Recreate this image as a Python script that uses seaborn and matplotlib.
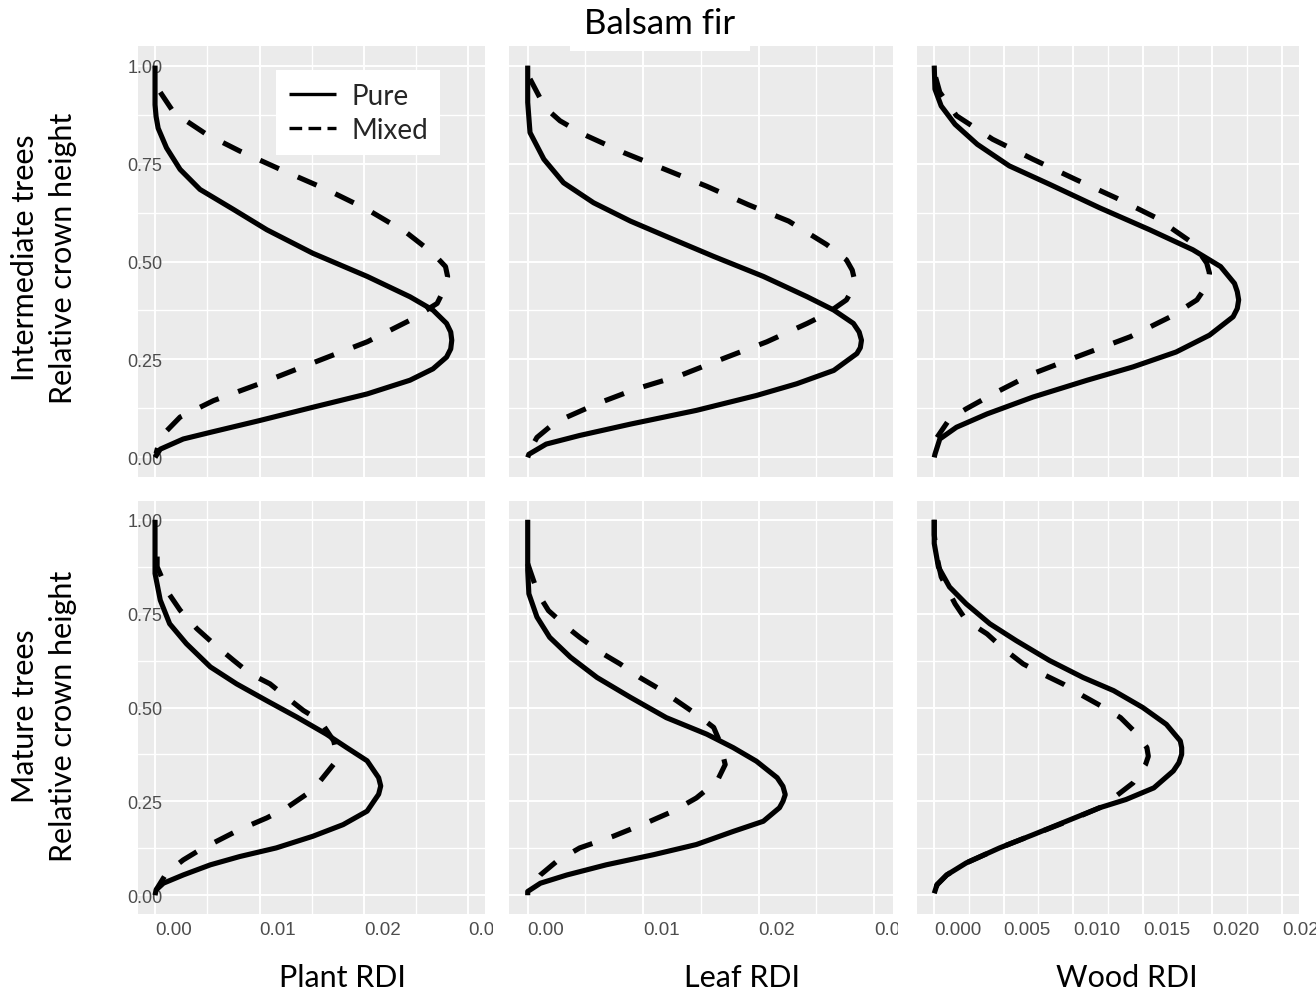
import matplotlib
matplotlib.use("Agg")
import matplotlib.pyplot as plt
import seaborn as sns
from matplotlib import font_manager
from matplotlib.font_manager import FontProperties
from matplotlib.lines import Line2D
from matplotlib.patches import Rectangle
from matplotlib.ticker import FixedLocator
from matplotlib.transforms import Bbox, TransformedBbox

# ---------------------------------------------------------------------------
# Relative density index (RDI) profiles along relative crown height
# ---------------------------------------------------------------------------
column_titles = ["Plant RDI", "Leaf RDI", "Wood RDI"]
row_titles = ["Intermediate trees\nRelative crown height",
              "Mature trees\nRelative crown height"]
stand_types = ["Pure", "Mixed"]

height_ticks = [0.0, 0.25, 0.50, 0.75, 1.00]
height_tick_labels = ["0.00", "0.25", "0.50", "0.75", "1.00"]
rdi_ticks_plant_leaf = [0.0, 0.01, 0.02, 0.03]
rdi_tick_labels_plant_leaf = ["0.00", "0.01", "0.02", "0.03"]
rdi_ticks_wood = [0.0, 0.005, 0.010, 0.015, 0.020, 0.025]
rdi_tick_labels_wood = ["0.000", "0.005", "0.010", "0.015", "0.020", "0.025"]

# Intermediate trees - plant RDI
int_plant_pure_h = [1.00, 0.90, 0.87, 0.84, 0.79, 0.735, 0.684, 0.633, 0.581, 0.521, 0.462, 0.410, 0.376,
                    0.342, 0.320, 0.299, 0.277, 0.256, 0.226, 0.197, 0.162, 0.128, 0.094, 0.064, 0.047,
                    0.021, 0.0]
int_plant_pure_rdi = [0.0, 0.0, 0.0001, 0.0003, 0.0011, 0.0024, 0.0043, 0.0075, 0.0107, 0.0151, 0.0203, 0.0244,
                      0.0266, 0.0279, 0.0283, 0.0284, 0.0283, 0.0279, 0.0266, 0.0244, 0.0203, 0.0151, 0.0100,
                      0.0053, 0.0027, 0.0005, 0.0]
int_plant_mixed_h = [0.932, 0.880, 0.825, 0.782, 0.735, 0.684, 0.633, 0.573, 0.521, 0.487, 0.462, 0.436, 0.393,
                     0.350, 0.295, 0.235, 0.188, 0.145, 0.103, 0.051, 0.010]
int_plant_mixed_rdi = [0.0005, 0.0018, 0.0049, 0.0081, 0.0120, 0.0164, 0.0203, 0.0241, 0.0266, 0.0278, 0.0280,
                       0.0278, 0.0270, 0.0244, 0.0203, 0.0145, 0.0100, 0.0056, 0.0024, 0.0005, 0.0001]

# Intermediate trees - leaf RDI
int_leaf_pure_h = [1.00, 0.906, 0.829, 0.761, 0.701, 0.650, 0.603, 0.564, 0.513, 0.462, 0.410, 0.376,
                   0.342, 0.320, 0.299, 0.280, 0.265, 0.222, 0.188, 0.158, 0.120, 0.085, 0.056, 0.034,
                   0.008, 0.0]
int_leaf_pure_rdi = [0.0, 0.0, 0.0002, 0.0014, 0.0031, 0.0057, 0.0089, 0.0120, 0.0161, 0.0204, 0.0242, 0.0265,
                     0.0282, 0.0287, 0.0289, 0.0288, 0.0285, 0.0265, 0.0233, 0.0198, 0.0146, 0.0089, 0.0045,
                     0.0016, 0.0001, 0.0]
int_leaf_mixed_h = [0.966, 0.893, 0.859, 0.825, 0.778, 0.735, 0.692, 0.645, 0.603, 0.543, 0.504, 0.478, 0.453,
                    0.428, 0.402, 0.367, 0.342, 0.295, 0.252, 0.209, 0.175, 0.137, 0.090, 0.051, 0.008]
int_leaf_mixed_rdi = [0.0002, 0.0015, 0.0028, 0.0048, 0.0083, 0.0119, 0.0155, 0.0191, 0.0226, 0.0259, 0.0276,
                      0.0281, 0.0283, 0.0281, 0.0276, 0.0259, 0.0242, 0.0207, 0.0169, 0.0132, 0.0094, 0.0060,
                      0.0024, 0.0008, 0.0]

# Intermediate trees - wood RDI
int_wood_pure_h = [1.00, 0.940, 0.897, 0.850, 0.799, 0.744, 0.697, 0.637, 0.581, 0.530, 0.487, 0.444, 0.423,
                   0.402, 0.380, 0.359, 0.312, 0.269, 0.231, 0.197, 0.154, 0.111, 0.077, 0.047, 0.008, 0.0]
int_wood_pure_rdi = [0.0, 0.00005, 0.0005, 0.0015, 0.0031, 0.0054, 0.0083, 0.0119, 0.0155, 0.0186, 0.0206,
                     0.0216, 0.0218, 0.0219, 0.0218, 0.0215, 0.0198, 0.0174, 0.0143, 0.0110, 0.0071, 0.0038,
                     0.0016, 0.0004, 0.00005, 0.0]
int_wood_mixed_h = [0.97, 0.932, 0.872, 0.812, 0.761, 0.709, 0.662, 0.611, 0.547, 0.496, 0.470, 0.444, 0.402,
                    0.359, 0.308, 0.256, 0.214, 0.167, 0.124, 0.098, 0.051]
int_wood_mixed_rdi = [0.0001, 0.0004, 0.0016, 0.0042, 0.0071, 0.0102, 0.0131, 0.0160, 0.0186, 0.0196, 0.0198,
                      0.0197, 0.0189, 0.0170, 0.0141, 0.0102, 0.0071, 0.0045, 0.0023, 0.0011, 0.0002]

# Mature trees - plant RDI
mat_plant_pure_h = [1.00, 0.857, 0.786, 0.723, 0.670, 0.608, 0.563, 0.518, 0.474, 0.429, 0.394, 0.358,
                    0.313, 0.291, 0.269, 0.224, 0.188, 0.157, 0.126, 0.103, 0.081, 0.054, 0.032, 0.014, 0.0]
mat_plant_pure_rdi = [0.0, 0.0, 0.0005, 0.0014, 0.0030, 0.0053, 0.0078, 0.0107, 0.0136, 0.0164, 0.0183, 0.0203,
                      0.0214, 0.0216, 0.0214, 0.0203, 0.0180, 0.0151, 0.0116, 0.0081, 0.0053, 0.0027, 0.0008,
                      0.0001, 0.0]
mat_plant_mixed_h = [0.902, 0.875, 0.804, 0.759, 0.710, 0.670, 0.626, 0.590, 0.563, 0.527, 0.492, 0.465,
                     0.411, 0.376, 0.349, 0.304, 0.269, 0.233, 0.206, 0.175, 0.148, 0.121, 0.094, 0.059, 0.014]
mat_plant_mixed_rdi = [0.0002, 0.0002, 0.0013, 0.0024, 0.0040, 0.0056, 0.0075, 0.0091, 0.0110, 0.0126, 0.0142,
                       0.0158, 0.0171, 0.0174, 0.0171, 0.0158, 0.0145, 0.0126, 0.0107, 0.0081, 0.0062, 0.0043,
                       0.0027, 0.0011, 0.0001]

# Mature trees - leaf RDI
mat_leaf_pure_h = [1.00, 0.865, 0.803, 0.741, 0.687, 0.634, 0.580, 0.527, 0.473, 0.429, 0.393, 0.357,
                   0.313, 0.290, 0.268, 0.250, 0.233, 0.197, 0.170, 0.135, 0.108, 0.081, 0.054, 0.032, 0.010, 0.0]
mat_leaf_pure_rdi = [0.0, 0.0, 0.0001, 0.0008, 0.0019, 0.0037, 0.0060, 0.0089, 0.0120, 0.0155, 0.0178, 0.0198,
                     0.0216, 0.0221, 0.0223, 0.0221, 0.0218, 0.0204, 0.0178, 0.0146, 0.0109, 0.0068, 0.0034,
                     0.0011, 0.0, 0.0]
mat_leaf_mixed_h = [0.883, 0.803, 0.758, 0.714, 0.687, 0.647, 0.616, 0.580, 0.553, 0.518, 0.482, 0.447,
                    0.411, 0.348, 0.304, 0.259, 0.224, 0.193, 0.157, 0.126, 0.090, 0.054, 0.019]
mat_leaf_mixed_rdi = [0.0, 0.0009, 0.0018, 0.0034, 0.0045, 0.0063, 0.0080, 0.0097, 0.0112, 0.0129, 0.0146, 0.0161,
                      0.0166, 0.0171, 0.0164, 0.0146, 0.0126, 0.0103, 0.0074, 0.0045, 0.0025, 0.0011, 0.0002]

# Mature trees - wood RDI
mat_wood_pure_h = [1.00, 0.937, 0.874, 0.821, 0.776, 0.723, 0.678, 0.625, 0.580, 0.545, 0.500, 0.455,
                   0.411, 0.393, 0.375, 0.353, 0.331, 0.286, 0.255, 0.233, 0.197, 0.161, 0.126, 0.086, 0.054,
                   0.028, 0.005]
mat_wood_pure_rdi = [0.0, 0.0, 0.0003, 0.0011, 0.0023, 0.0040, 0.0059, 0.0083, 0.0107, 0.0129, 0.0150, 0.0167,
                     0.0177, 0.0178, 0.0178, 0.0176, 0.0172, 0.0158, 0.0138, 0.0119, 0.0095, 0.0071, 0.0047,
                     0.0023, 0.0009, 0.0002, 0.0]
mat_wood_mixed_h = [1.00, 0.96, 0.90, 0.848, 0.776, 0.732, 0.696, 0.656, 0.616, 0.589, 0.562, 0.531, 0.500,
                    0.473, 0.429, 0.393, 0.370, 0.348, 0.299, 0.259, 0.233, 0.197, 0.161, 0.126, 0.086, 0.054,
                    0.028, 0.005]
mat_wood_mixed_rdi = [0.0, 0.0, 0.0002, 0.0005, 0.0015, 0.0023, 0.0038, 0.0050, 0.0064, 0.0078, 0.0093, 0.0107,
                      0.0122, 0.0134, 0.0146, 0.0153, 0.0154, 0.0152, 0.0143, 0.0129, 0.0119, 0.0096, 0.0071,
                      0.0047, 0.0023, 0.0009, 0.0002, 0.0]

panels = [
    [(int_plant_pure_h, int_plant_pure_rdi, int_plant_mixed_h, int_plant_mixed_rdi),
     (int_leaf_pure_h, int_leaf_pure_rdi, int_leaf_mixed_h, int_leaf_mixed_rdi),
     (int_wood_pure_h, int_wood_pure_rdi, int_wood_mixed_h, int_wood_mixed_rdi)],
    [(mat_plant_pure_h, mat_plant_pure_rdi, mat_plant_mixed_h, mat_plant_mixed_rdi),
     (mat_leaf_pure_h, mat_leaf_pure_rdi, mat_leaf_mixed_h, mat_leaf_mixed_rdi),
     (mat_wood_pure_h, mat_wood_pure_rdi, mat_wood_mixed_h, mat_wood_mixed_rdi)],
]


def first_font(names):
    for name in names:
        try:
            font_manager.findfont(FontProperties(family=name), fallback_to_default=False)
            return name
        except Exception:
            continue
    return "DejaVu Sans"


sns.set_theme(style="darkgrid")
LABEL_FONT = first_font(["Lato", "Open Sans", "Noto Sans"])
TICK_FONT = first_font(["Liberation Sans Narrow", "Liberation Sans", "DejaVu Sans"])
plt.rcParams["font.family"] = [LABEL_FONT, "DejaVu Sans"]
plt.rcParams["axes.facecolor"] = "#EBEBEB"
plt.rcParams["axes.axisbelow"] = True

W, H = 1316, 995
fig = plt.figure(figsize=(W / 100, H / 100), dpi=100, facecolor="white")

# panel boxes in pixels: (left, right) per column, (top, bottom) per row
col_px = [(138, 485), (509, 893), (917, 1299)]
row_px = [(47, 478), (502, 915)]
col_xlim = [(-0.00163, 0.03158), (-0.00162, 0.03163), (-0.00124, 0.02624)]
label_clip_px = [(100, 493), (495, 898), (905, 1316)]

LW = 3.7
GRID = "white"
TICK_COLOR = "#333333"
TEXT_GREY = "#4D4D4D"

axes = [[None] * 3 for _ in range(2)]
for r, (top, bottom) in enumerate(row_px):
    for c, (left, right) in enumerate(col_px):
        ax = fig.add_axes([left / W, 1 - bottom / H, (right - left) / W, (bottom - top) / H])
        axes[r][c] = ax
        ph, prdi, mh, mrdi = panels[r][c]
        sns.lineplot(x=prdi, y=ph, ax=ax, sort=False, estimator=None, color="black",
                     lw=LW, solid_capstyle="butt", solid_joinstyle="round")
        sns.lineplot(x=mrdi, y=mh, ax=ax, sort=False, estimator=None, color="black",
                     lw=LW, linestyle=(0, (4, 4)), dash_capstyle="butt", dash_joinstyle="round")

        ax.set_xlim(*col_xlim[c])
        ax.set_ylim(-0.05, 1.05)
        ax.set_xlabel("")
        ax.set_ylabel("")
        for s in ax.spines.values():
            s.set_visible(False)

        if c < 2:
            xt, xl = rdi_ticks_plant_leaf, rdi_tick_labels_plant_leaf
            xminor = [0.005, 0.015, 0.025]
        else:
            xt, xl = rdi_ticks_wood, rdi_tick_labels_wood
            xminor = [0.0025, 0.0075, 0.0125, 0.0175, 0.0225]
        ax.xaxis.set_major_locator(FixedLocator(xt))
        ax.xaxis.set_minor_locator(FixedLocator(xminor))
        ax.yaxis.set_major_locator(FixedLocator(height_ticks))
        ax.yaxis.set_minor_locator(FixedLocator([0.125, 0.375, 0.625, 0.875]))
        ax.set_xticks(xt, xl)
        ax.set_yticks(height_ticks, height_tick_labels)

        ax.grid(True, which="major", color=GRID, lw=1.4)
        ax.grid(True, which="minor", color=GRID, lw=1.0)
        ax.tick_params(which="minor", length=0)

        if r == 1:
            ax.tick_params(axis="x", which="major", length=3, width=1.0, color=TICK_COLOR,
                           labelsize=13.5, labelcolor=TEXT_GREY, pad=2)
            clip = TransformedBbox(Bbox.from_extents(label_clip_px[c][0] / W, 0,
                                                     label_clip_px[c][1] / W, 1), fig.transFigure)
            for lbl in ax.get_xticklabels():
                lbl.set_fontfamily(TICK_FONT)
                lbl.set_horizontalalignment("left")
                lbl.set_clip_box(clip)
                lbl.set_clip_on(True)
        else:
            ax.tick_params(axis="x", which="major", length=0, labelbottom=False)

        if c == 0:
            ax.tick_params(axis="y", which="major", length=3.5, width=1.0, color=TICK_COLOR,
                           labelsize=13, labelcolor=TEXT_GREY, pad=-21)
            for lbl in ax.get_yticklabels():
                lbl.set_fontfamily(TICK_FONT)
        else:
            ax.tick_params(axis="y", which="major", length=0, labelleft=False)

# legend inside the first panel
legend_handles = [Line2D([], [], color="black", lw=2.4, solid_capstyle="butt"),
                  Line2D([], [], color="black", lw=2.4, dashes=(3.8, 1.9), dash_capstyle="butt")]
leg = axes[0][0].legend(legend_handles, stand_types, loc="upper left",
                        bbox_to_anchor=(0.398, 0.944), borderaxespad=0, frameon=True,
                        fancybox=False, framealpha=1, facecolor="white", edgecolor="none",
                        fontsize=20, handlelength=1.7, handletextpad=0.55, borderpad=0.45,
                        labelspacing=0.3)

# title with white backing strip
fig.add_artist(Rectangle((570 / W, 1 - 52 / H), 180 / W, 52 / H, transform=fig.transFigure,
                         facecolor="white", edgecolor="none", zorder=5))
fig.text(660 / W, 1 - 24 / H, "Balsam fir", ha="center", va="center", fontsize=25,
         color="black", zorder=6)

# column labels
for x_px, txt in zip([342, 742, 1127], column_titles):
    fig.text(x_px / W, 1 - 978 / H, txt, ha="center", va="center", fontsize=22, color="black")

# row labels
for y_px, txt in zip([258, 716], row_titles):
    fig.text(44 / W, 1 - y_px / H, txt, ha="center", va="center", rotation=90,
             fontsize=22, linespacing=1.4, multialignment="center", color="black")

fig.savefig("out.png", dpi=100, facecolor="white")
